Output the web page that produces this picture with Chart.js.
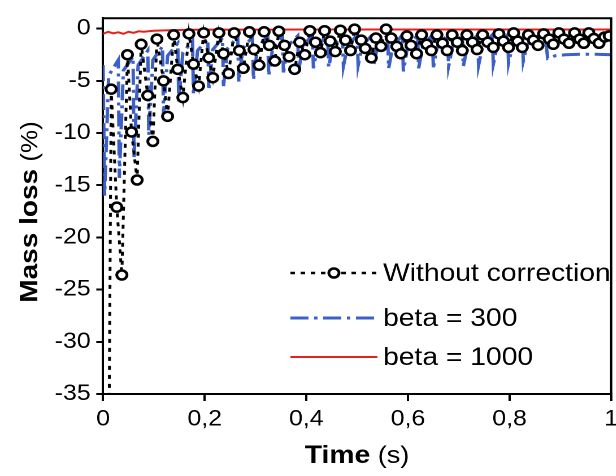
<!DOCTYPE html>
<html>
<head>
<meta charset="utf-8">
<script src="https://cdn.jsdelivr.net/npm/chart.js"></script>
<style>
  html, body { margin: 0; padding: 0; background: #fff; overflow: hidden; width: 616px; height: 476px; }
  #wrap { transform: scaleX(1.13); transform-origin: 0 0; width: 552px; height: 476px; }
</style>
</head>
<body>
<div id="wrap"><canvas id="chart"></canvas></div>
<script>
// data
const blackTime = [0.012, 0.016, 0.027, 0.037, 0.048, 0.056, 0.067, 0.075, 0.088, 0.098,
  0.106, 0.119, 0.127, 0.139, 0.147, 0.157, 0.169, 0.178, 0.188, 0.198,
  0.208, 0.216, 0.228, 0.237, 0.247, 0.258, 0.268, 0.276, 0.288, 0.297,
  0.307, 0.317, 0.327, 0.338, 0.346, 0.357, 0.366, 0.377, 0.387, 0.397,
  0.407, 0.418, 0.428, 0.436, 0.447, 0.457, 0.467, 0.477, 0.487, 0.495,
  0.508, 0.516, 0.528, 0.537, 0.547, 0.557, 0.567, 0.578, 0.586, 0.598,
  0.606, 0.617, 0.627, 0.637, 0.646, 0.657, 0.668, 0.677, 0.687, 0.697,
  0.707, 0.716, 0.727, 0.736, 0.747, 0.757, 0.768, 0.779, 0.788, 0.798,
  0.808, 0.816, 0.825, 0.837, 0.847, 0.856, 0.867, 0.878, 0.886, 0.897,
  0.907, 0.917, 0.928, 0.938, 0.946, 0.956, 0.966, 0.976, 0.987, 0.996];
const blackMass = [-37, -5.8, -17.1, -23.6, -2.5, -9.9, -14.5, -1.5, -6.4, -10.8,
  -1.0, -5.0, -8.4, -0.6, -3.9, -6.6, -0.5, -3.4, -5.5, -0.4,
  -2.8, -4.7, -0.4, -2.4, -4.3, -0.4, -2.1, -3.8, -0.3, -2.0,
  -3.5, -0.3, -1.6, -3.1, -0.25, -1.6, -2.7, -3.9, -1.3, -2.5,
  -0.2, -1.3, -2.3, -0.2, -1.2, -2.2, -0.15, -1.1, -2.1, -0.05,
  -1.1, -1.9, -2.8, -0.9, -1.7, -0.05, -0.9, -1.7, -2.4, -0.7,
  -1.6, -2.4, -0.6, -1.5, -2.1, -0.6, -1.4, -2.1, -0.6, -1.3,
  -2.1, -0.6, -1.3, -2.0, -0.6, -1.3, -1.8, -0.5, -1.2, -1.8,
  -0.4, -1.2, -1.8, -0.6, -1.1, -1.6, -0.5, -1.0, -1.5, -0.4,
  -1.0, -1.4, -0.4, -1.0, -1.4, -0.4, -0.95, -1.4, -0.8, -0.7];

const blueTime = [0, 0.003, 0.011,
  0.030, 0.032, 0.040,  0.059, 0.061, 0.069,  0.088, 0.090, 0.098,
  0.117, 0.119, 0.127,  0.147, 0.149, 0.157,  0.176, 0.178, 0.186,
  0.206, 0.208, 0.216,  0.235, 0.237, 0.245,  0.265, 0.267, 0.275,
  0.294, 0.296, 0.304,  0.324, 0.326, 0.334,  0.353, 0.355, 0.363,
  0.383, 0.385, 0.393,  0.412, 0.414, 0.422,  0.442, 0.444, 0.452,
  0.471, 0.473, 0.481,  0.500, 0.502, 0.510,  0.530, 0.532, 0.540,
  0.560, 0.562, 0.570,  0.589, 0.591, 0.599,  0.619, 0.621, 0.629,
  0.648, 0.650, 0.658,  0.678, 0.680, 0.688,  0.707, 0.709, 0.717,
  0.737, 0.739, 0.747,  0.766, 0.768, 0.776,  0.796, 0.798, 0.806,
  0.825, 0.827, 0.835,
  0.870, 0.875, 0.890, 0.910, 0.940, 0.970, 1.0];
const blueMass = [-3.5, -16.0, -4.5,
  -3.0, -14.3, -4.0,  -2.7, -12.3, -3.5,  -2.1, -10.2, -3.0,
  -1.7, -8.3, -2.6,  -1.4, -7.0, -2.3,  -1.2, -6.3, -2.1,
  -1.0, -5.9, -2.0,  -0.9, -5.5, -1.9,  -0.8, -5.1, -1.9,
  -0.8, -4.9, -1.8,  -0.7, -4.5, -1.8,  -0.7, -4.2, -1.7,
  -0.7, -4.0, -1.7,  -0.6, -3.8, -1.7,  -0.6, -3.7, -1.7,
  -0.6, -3.6, -1.7,  -0.6, -3.5, -1.6,  -0.6, -3.6, -1.7,
  -0.6, -3.8, -1.7,  -0.6, -4.1, -1.8,  -0.6, -3.8, -1.7,
  -0.6, -3.7, -1.7,  -0.6, -3.6, -1.7,  -0.6, -3.6, -1.7,
  -0.6, -3.5, -1.6,  -0.6, -3.4, -1.6,  -0.6, -3.3, -1.5,
  -0.6, -3.1, -1.5,
  -0.6, -2.85, -2.6, -2.5, -2.45, -2.45, -2.5];

const redTime = [0, 0.01, 0.02, 0.03, 0.04, 0.05, 0.06, 0.07, 0.08, 0.1, 0.13, 0.16, 0.2, 0.3, 0.4, 0.5, 0.6, 0.7, 0.8, 0.9, 1.0];
const redMass = [-0.5, -0.3, -0.45, -0.35, -0.5, -0.3, -0.4, -0.25, -0.3, -0.2, -0.15, -0.12, -0.1, -0.1, -0.08, -0.08, -0.08, -0.08, -0.08, -0.08, -0.08];

const seriesLabels = ['Without correction', 'beta = 300', 'beta = 1000'];
const xTicks = [0, 0.2, 0.4, 0.6, 0.8, 1];
const xTickLabels = ['0', '0,2', '0,4', '0,6', '0,8', '1'];
const yTicks = [-35, -30, -25, -20, -15, -10, -5, 0];
const yTickLabels = ['-35', '-30', '-25', '-20', '-15', '-10', '-5', '0'];

const FONT = "'Liberation Sans', Arial, sans-serif";
Chart.defaults.font.family = FONT;
Chart.defaults.color = '#000';

const pts = (xs, ys) => xs.map((x, i) => ({ x, y: ys[i] }));

// frame, axis titles and legend drawn in the plot
const decor = {
  id: 'decor',
  afterDraw(chart) {
    const { ctx, chartArea: a } = chart;
    ctx.save();
    ctx.strokeStyle = '#000';
    ctx.lineWidth = 2;
    ctx.setLineDash([]);
    ctx.beginPath();
    ctx.moveTo(a.left, a.top);
    ctx.lineTo(a.right, a.top);
    ctx.lineTo(a.right, a.bottom);
    ctx.stroke();

    // x title
    ctx.fillStyle = '#000';
    ctx.textBaseline = 'alphabetic';
    ctx.font = 'bold 25px ' + FONT;
    const t1 = 'Time', t2 = ' (s)';
    const w1 = ctx.measureText(t1).width;
    ctx.font = '24px ' + FONT;
    const w2 = ctx.measureText(t2).width;
    let x0 = 316 - (w1 + w2) / 2;
    ctx.font = 'bold 25px ' + FONT;
    ctx.fillText(t1, x0, 463);
    ctx.font = '24px ' + FONT;
    ctx.fillText(t2, x0 + w1, 463);

    // y title
    ctx.save();
    ctx.translate(33, 212);
    ctx.rotate(-Math.PI / 2);
    ctx.scale(1, 0.8);
    ctx.font = 'bold 28px ' + FONT;
    const m1 = 'Mass loss', m2 = ' (%)';
    const v1 = ctx.measureText(m1).width;
    ctx.font = '26px ' + FONT;
    const v2 = ctx.measureText(m2).width;
    x0 = -(v1 + v2) / 2;
    ctx.font = 'bold 28px ' + FONT;
    ctx.fillText(m1, x0, 0);
    ctx.font = '26px ' + FONT;
    ctx.fillText(m2, x0 + v1, 0);
    ctx.restore();

    // legend
    const rows = [273, 318, 357];
    const lx0 = 257, lx1 = 334, tx = 339;
    chart.data.datasets.forEach((ds, i) => {
      const y = rows[i];
      ctx.strokeStyle = ds.borderColor;
      ctx.lineWidth = ds.borderWidth;
      ctx.setLineDash(ds.borderDash || []);
      ctx.beginPath();
      ctx.moveTo(lx0, y);
      ctx.lineTo(lx1, y);
      ctx.stroke();
      if (ds.legendMarker) {
        ctx.setLineDash([]);
        ctx.beginPath();
        ctx.arc((lx0 + lx1) / 2, y, 4.5, 0, Math.PI * 2);
        ctx.fillStyle = '#fff';
        ctx.fill();
        ctx.lineWidth = 2.5;
        ctx.strokeStyle = '#000';
        ctx.stroke();
      }
      ctx.fillStyle = '#000';
      ctx.font = '25px ' + FONT;
      ctx.textBaseline = 'middle';
      ctx.fillText(ds.label, tx, y + 1);
    });
    ctx.restore();
  }
};

const canvas = document.getElementById('chart');
canvas.width = 552;
canvas.height = 476;

new Chart(canvas, {
  type: 'line',
  data: {
    datasets: [
      {
        label: seriesLabels[0],
        data: pts(blackTime, blackMass),
        borderColor: '#000',
        borderWidth: 2.5,
        borderDash: [4, 5],
        pointRadius: c => (c.dataIndex === 0 ? 0 : 4.5),
        pointBorderWidth: 2.5,
        pointBorderColor: '#000',
        pointBackgroundColor: '#fff',
        legendMarker: true
      },
      {
        label: seriesLabels[1],
        data: pts(blueTime, blueMass),
        borderColor: '#3d60c8',
        borderWidth: 3,
        borderDash: [16, 5, 3, 5],
        pointRadius: 0
      },
      {
        label: seriesLabels[2],
        data: pts(redTime, redMass),
        borderColor: '#e8201c',
        borderWidth: 2,
        pointRadius: 0
      }
    ]
  },
  options: {
    responsive: false,
    animation: false,
    devicePixelRatio: 2,
    layout: { padding: { top: 15, right: 8.6, left: 0, bottom: 0 } },
    plugins: { legend: { display: false }, tooltip: { enabled: false } },
    elements: { line: { tension: 0 } },
    scales: {
      x: {
        type: 'linear',
        min: 0,
        max: 1,
        afterBuildTicks: s => { s.ticks = xTicks.map(v => ({ value: v })); },
        afterFit: s => { s.height = 82; },
        ticks: {
          callback: (v, i) => xTickLabels[i],
          font: { size: 22 },
          padding: 5,
          maxRotation: 0,
          autoSkip: false
        },
        grid: { drawOnChartArea: false, drawTicks: true, tickLength: 7, tickWidth: 2, tickColor: '#000', color: '#000', lineWidth: 2 },
        border: { display: true, color: '#000', width: 2 }
      },
      y: {
        type: 'linear',
        min: -35,
        max: 1,
        afterBuildTicks: s => { s.ticks = yTicks.map(v => ({ value: v })); },
        afterFit: s => { s.width = 91.2; },
        ticks: {
          callback: (v, i) => yTickLabels[i],
          font: { size: 22 },
          padding: 5,
          autoSkip: false
        },
        grid: { drawOnChartArea: false, drawTicks: true, tickLength: 6, tickWidth: 2, tickColor: '#000', color: '#000', lineWidth: 2 },
        border: { display: true, color: '#000', width: 2 }
      }
    }
  },
  plugins: [decor]
});
</script>
</body>
</html>
